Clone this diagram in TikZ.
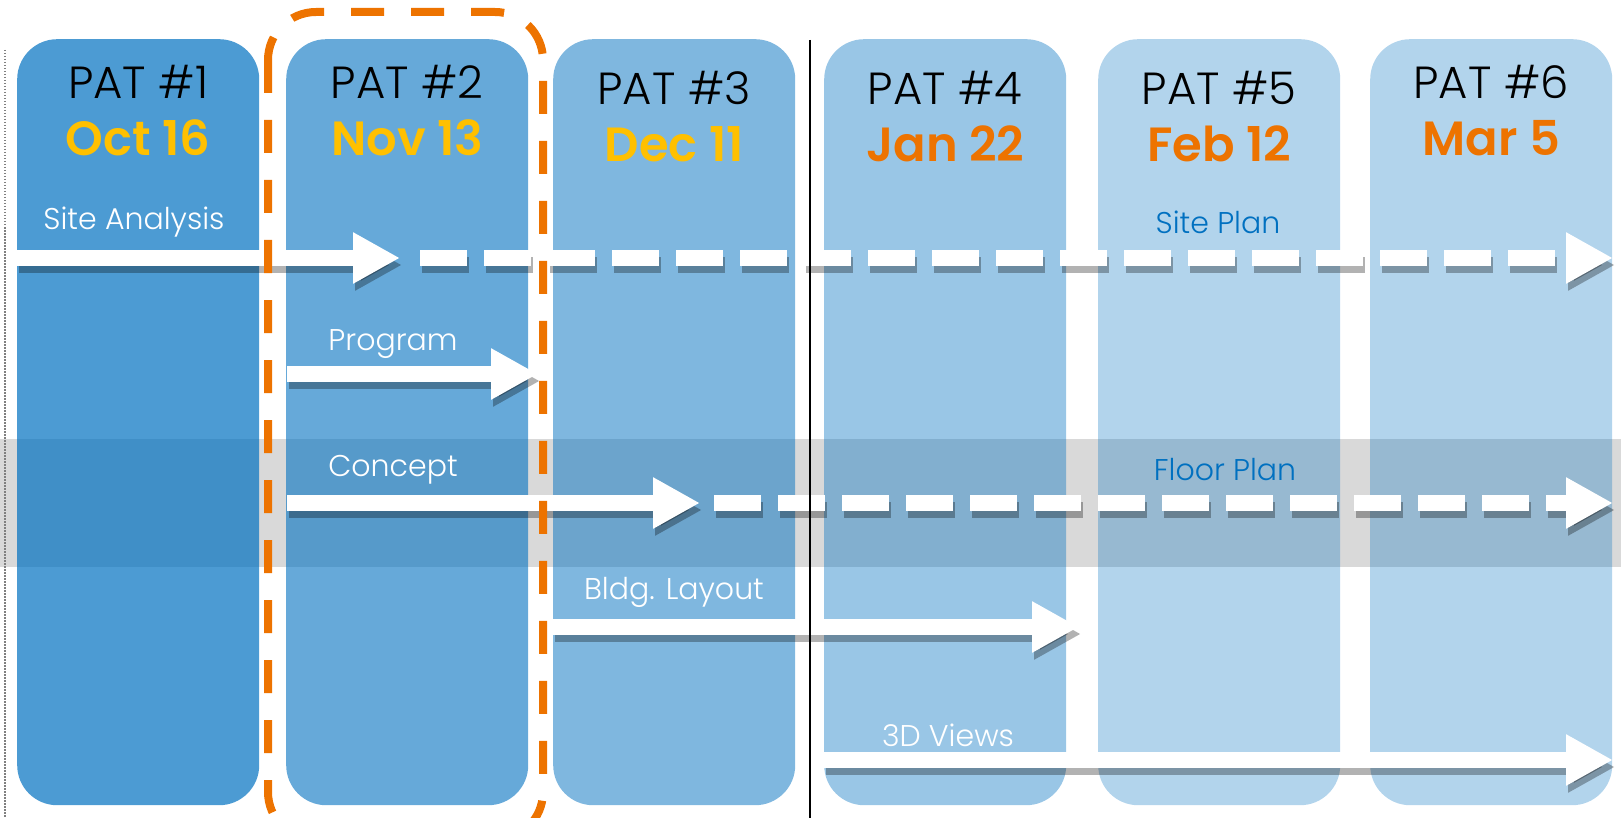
\documentclass[tikz,border=0pt]{standalone}
\usepackage{fontspec}
\setmainfont{Poppins}
\newfontfamily\thinfont{Poppins Light}
\newfontfamily\semifont{Poppins SemiBold}
\usetikzlibrary{arrows.meta, positioning}

\definecolor{patblue}{RGB}{0,112,192}
\definecolor{dateyellow}{RGB}{255,192,0}
\definecolor{dateorange}{RGB}{237,115,0}

\tikzset{
    pat/.style={rounded corners=40pt, minimum width=242pt, minimum height=766pt,
        anchor=north west, inner sep=0pt, fill=patblue, fill opacity=#1},
    head/.style={font=\thinfont\fontsize{45}{48}\selectfont},
    date/.style={font=\semifont\fontsize{48}{52}\selectfont},
    task/.style={font=\thinfont\fontsize{30}{34}\selectfont, text=white},
    plan/.style={font=\thinfont\fontsize{30}{34}\selectfont, text=patblue},
    flow/.style={white, line width=16pt, -{Triangle[length=47pt, width=48pt]}},
    later/.style={flow, dash pattern=on 47pt off 17pt},
    shade/.style={black, opacity=0.3, line width=16pt,
        -{Triangle[length=47pt, width=48pt]},
        transform canvas={xshift=2pt, yshift=-7pt}},
}

\begin{document}
\begin{tikzpicture}[x=1pt, y=-1pt, node distance=56pt, on grid]
    \useasboundingbox (0,0) rectangle (1621,818);

    \fill [black!15] (0,439) rectangle (1621,567);

    \node (p1) [pat=0.7] at (17,39) {};
    \node (p2) [pat=0.6] at (286,39) {};
    \node (p3) [pat=0.5] at (553,39) {};
    \node (p4) [pat=0.4] at (824,39) {};
    \node (p5) [pat=0.3] at (1098,39) {};
    \node (p6) [pat=0.3] at (1370,39) {};

    \node (h1) [head, below=23pt of p1.north] {PAT \#1};
    \node (h2) [head, below=23pt of p2.north] {PAT \#2};
    \node (h3) [head, below=29pt of p3.north] {PAT \#3};
    \node (h4) [head, below=29pt of p4.north] {PAT \#4};
    \node (h5) [head, below=29pt of p5.north] {PAT \#5};
    \node (h6) [head, below=23pt of p6.north] {PAT \#6};
    \node (d1) [date, text=dateyellow, below=of h1] {Oct 16};
    \node (d2) [date, text=dateyellow, below=of h2] {Nov 13};
    \node (d3) [date, text=dateyellow, below=of h3] {Dec 11};
    \node (d4) [date, text=dateorange, below=of h4] {Jan 22};
    \node (d5) [date, text=dateorange, below=of h5] {Feb 12};
    \node (d6) [date, text=dateorange, below=of h6] {Mar 5};

    \coordinate (sa0) at (17,258);
    \coordinate (sa1) at (400,258);
    \coordinate (sp0) at (420,258);
    \coordinate (sp1) at (1613,258);
    \coordinate (pg0) at (287,374);
    \coordinate (pg1) at (538,374);
    \coordinate (cc0) at (287,503);
    \coordinate (cc1) at (700,503);
    \coordinate (fp0) at (714,503);
    \coordinate (fp1) at (1613,503);
    \coordinate (bl0) at (553,627);
    \coordinate (bl1) at (1079,627);
    \coordinate (vw0) at (824,760);
    \coordinate (vw1) at (1613,760);

    \foreach \a/\b in {sa0/sa1, pg0/pg1, cc0/cc1, bl0/bl1, vw0/vw1}
        \draw [shade] (\a) -- (\b);
    \foreach \a/\b in {sp0/sp1, fp0/fp1}
        \draw [shade, dash pattern=on 47pt off 17pt] (\a) -- (\b);

    \draw [flow] (sa0) -- (sa1);
    \draw [later] (sp0) -- (sp1);
    \draw [flow] (pg0) -- (pg1);
    \draw [flow] (cc0) -- (cc1);
    \draw [later] (fp0) -- (fp1);
    \draw [flow] (bl0) -- (bl1);
    \draw [flow] (vw0) -- (vw1);

    \node (t1) [task] at (134,222) {Site Analysis};
    \node (t2) [task] at (393,344) {Program};
    \node (t3) [task] at (393,470) {Concept};
    \node (t4) [task] at (674,592) {Bldg. Layout};
    \node (t5) [task] at (948,735) {3D Views};
    \node (t6) [plan] at (1218,222) {Site Plan};
    \node (t7) [plan] at (1225,470) {Floor Plan};

    \draw [dateorange, line width=8pt, dash pattern=on 33pt off 27pt, rounded corners=48pt]
        (268,12) rectangle (543,840);
    \draw [line width=2.5pt] (810,40) -- (810,818);
    \draw [gray, line width=1.5pt, dash pattern=on 1.5pt off 1.5pt] (5,50) -- (5,818);
\end{tikzpicture}
\end{document}
